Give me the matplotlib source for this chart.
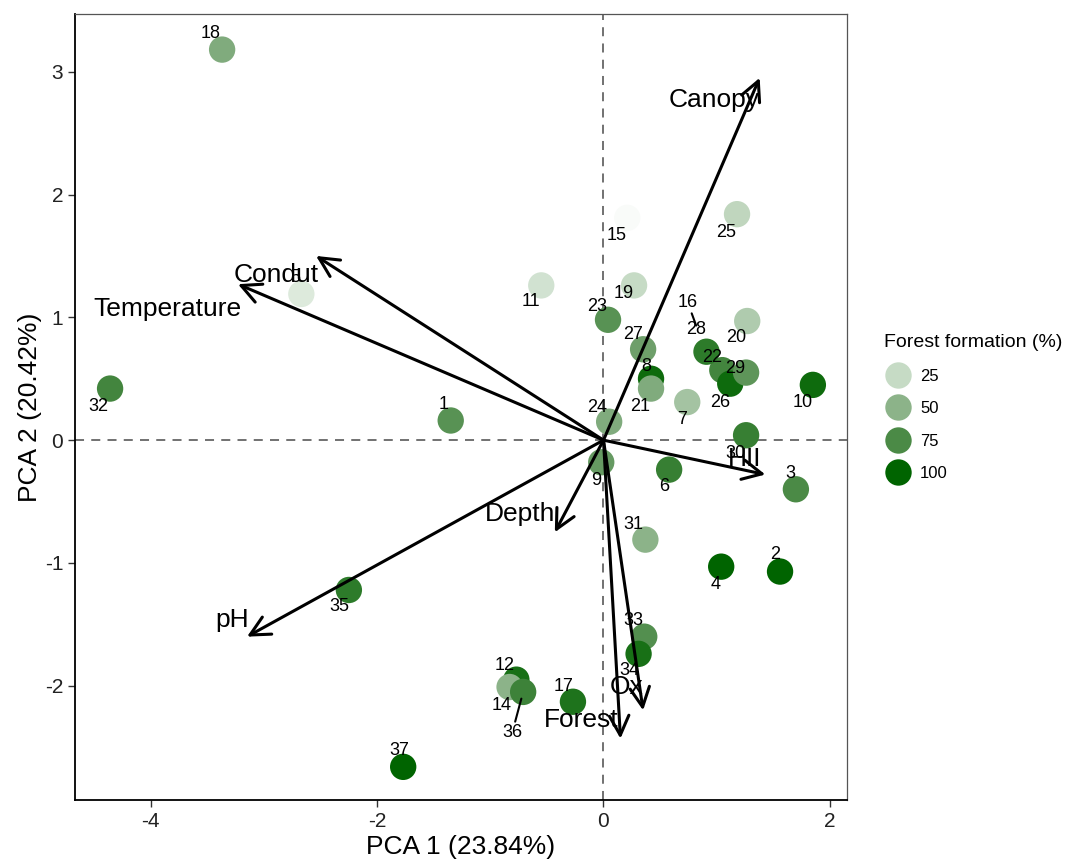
import numpy as np
import matplotlib.pyplot as plt
from matplotlib.colors import LinearSegmentedColormap, Normalize
from matplotlib.lines import Line2D

plt.rcParams['font.family'] = ['Liberation Sans', 'DejaVu Sans']
plt.rcParams['axes.unicode_minus'] = False

# site scores on the first two axes
site_ids = [1, 2, 3, 4, 5, 6, 7, 8, 9, 10, 11, 12, 14, 15, 16, 17, 18, 19,
            20, 21, 22, 23, 24, 25, 26, 27, 28, 29, 30, 31, 32, 33, 34, 35, 36, 37]
pc1 = [-1.35, 1.56, 1.70, 1.04, -2.67, 0.58, 0.74, 0.42, -0.02, 1.85, -0.55, -0.77,
       -0.83, 0.21, 0.84, -0.27, -3.37, 0.27, 1.27, 0.42, 1.05, 0.04, 0.05, 1.18,
       1.12, 0.35, 0.91, 1.26, 1.26, 0.37, -4.36, 0.36, 0.31, -2.25, -0.71, -1.77]
pc2 = [0.16, -1.07, -0.40, -1.03, 1.19, -0.24, 0.31, 0.50, -0.18, 0.45, 1.26, -1.95,
       -2.01, 1.81, 0.88, -2.13, 3.18, 1.26, 0.97, 0.42, 0.57, 0.98, 0.15, 1.84,
       0.46, 0.74, 0.72, 0.55, 0.04, -0.81, 0.42, -1.60, -1.74, -1.22, -2.05, -2.66]
forest_pct = [70, 100, 75, 100, 15, 82, 40, 95, 65, 95, 20, 92,
              50, 3, 0, 90, 55, 25, 35, 55, 78, 70, 55, 28,
              95, 62, 85, 68, 82, 50, 78, 72, 92, 85, 80, 100]

# variable loadings (arrows)
var_names = ['Canopy', 'Condut', 'Temperature', 'HII', 'Depth', 'pH', 'Forest', 'Ox']
load1 = [1.38, -2.54, -3.23, 1.43, -0.43, -3.15, 0.15, 0.35]
load2 = [2.95, 1.50, 1.27, -0.28, -0.75, -1.60, -2.43, -2.20]

legend_vals = [25, 50, 75, 100]

# label offsets in pixels (dx, dy), not data
site_off = {1: (-7, 16), 2: (-5, 17), 3: (-6, 16), 4: (-6, -18), 5: (-6, 17),
            6: (-5, -17), 7: (-5, -17), 8: (-5, 12), 9: (-5, -18), 10: (-10, -18),
            11: (-10, -16), 12: (-12, 14), 14: (-8, -18), 15: (-11, -18),
            16: (-11, 30), 17: (-9, 15), 18: (-11, 16), 19: (-10, -8),
            20: (-11, -16), 21: (-11, -18), 22: (-10, 13), 23: (-11, 13),
            24: (-12, 14), 25: (-11, -18), 26: (-10, -19), 27: (-10, 15),
            28: (-10, 22), 29: (-11, 4), 30: (-11, -18), 31: (-12, 15),
            32: (-12, -18), 33: (-11, 16), 34: (-9, -17), 35: (-10, -17),
            36: (-11, -41), 37: (-4, 16)}
var_off = {'Canopy': (-46, -22), 'Condut': (-40, -19), 'Temperature': (-71, -25),
           'HII': (-21, 16), 'Depth': (-35, 18), 'pH': (-15, 17),
           'Forest': (-39, 19), 'Ox': (-16, 23)}

cmap = LinearSegmentedColormap.from_list(
    'forest', ['#ffffff', '#c6dbc5', '#8db38a', '#4c8a47', '#006400'])
norm = Normalize(0, 100)

fig = plt.figure(figsize=(10.76, 8.63), dpi=100)
ax = fig.add_axes([0.0697, 0.073, 0.7173, 0.9108])

ax.axhline(0, color='#666666', lw=1.3, ls=(0, (5, 4)), zorder=1)
ax.axvline(0, color='#666666', lw=1.3, ls=(0, (5, 4)), zorder=1)

ax.scatter(pc1, pc2, c=forest_pct, cmap=cmap, norm=norm, s=360,
           edgecolors='none', zorder=2)

# loading arrows
for name, lx, ly in zip(var_names, load1, load2):
    ax.annotate('', xy=(lx, ly), xytext=(0, 0),
                arrowprops=dict(arrowstyle='->,head_length=0.7,head_width=0.35',
                                color='black', lw=2.2, mutation_scale=20,
                                shrinkA=0, shrinkB=0),
                zorder=3)
    dx, dy = var_off[name]
    ax.annotate(name, xy=(lx, ly), xytext=(dx, dy), textcoords='offset pixels',
                ha='center', va='center', fontsize=19, zorder=4)

# site labels
for sid, x, y in zip(site_ids, pc1, pc2):
    dx, dy = site_off[sid]
    props = None
    if sid in (16, 36):
        props = dict(arrowstyle='-', color='black', lw=1.5, shrinkA=0, shrinkB=5)
    ax.annotate(str(sid), xy=(x, y), xytext=(dx, dy), textcoords='offset pixels',
                ha='center', va='center', fontsize=13, arrowprops=props, zorder=5)

ax.set_xlim(-4.67, 2.15)
ax.set_ylim(-2.93, 3.47)
ax.set_xticks([-4, -2, 0, 2])
ax.set_yticks([-2, -1, 0, 1, 2, 3])
ax.tick_params(labelsize=15, length=5, width=1, color='#333333', labelcolor='#222222')
ax.set_xlabel('PCA 1 (23.84%)', fontsize=19, labelpad=3)
ax.set_ylabel('PCA 2 (20.42%)', fontsize=19, labelpad=2)

for side in ['top', 'right']:
    ax.spines[side].set_color('#555555')
    ax.spines[side].set_linewidth(0.9)
for side in ['left', 'bottom']:
    ax.spines[side].set_color('black')
    ax.spines[side].set_linewidth(1.3)

handles = [Line2D([], [], marker='o', ls='none', markersize=19,
                  markerfacecolor=cmap(norm(v)), markeredgecolor='none')
           for v in legend_vals]
leg = fig.legend(handles, [str(v) for v in legend_vals], title='Forest formation (%)',
                 loc='upper left', bbox_to_anchor=(0.808, 0.63), frameon=False,
                 fontsize=12, title_fontsize=14, labelspacing=1.05,
                 handletextpad=0.55, handlelength=1.6)
leg._legend_box.align = 'left'

fig.savefig('out.png', dpi=100)
